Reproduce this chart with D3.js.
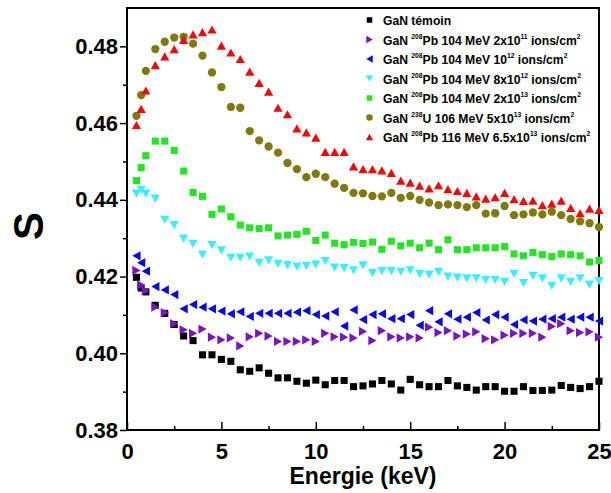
<!DOCTYPE html>
<html>
<head>
<meta charset="utf-8">
<script src="https://cdn.jsdelivr.net/npm/d3@7"></script>
<style>
  body { margin: 0; background: #fff; }
  text { font-family: "Liberation Sans", Arial, sans-serif; }
</style>
</head>
<body>
<div id="chart"></div>
<script>
// ---- data ----
const energy = [0.5, 0.75, 1, 1.5, 2, 2.5, 3, 3.5, 4, 4.5, 5, 5.5, 6, 6.5, 7, 7.5, 8, 8.5, 9, 9.5,
  10, 10.5, 11, 11.5, 12, 12.5, 13, 13.5, 14, 14.5, 15, 15.5, 16, 16.5, 17, 17.5, 18, 18.5, 19, 19.5,
  20, 20.5, 21, 21.5, 22, 22.5, 23, 23.5, 24, 24.5, 25];

const temoin = [0.4198, 0.4170, 0.4160, 0.4125, 0.4104, 0.4075, 0.4045, 0.4033, 0.3996, 0.3996,
  0.3984, 0.3979, 0.3957, 0.3953, 0.3962, 0.3948, 0.3936, 0.3936, 0.3927, 0.3922,
  0.3930, 0.3918, 0.3929, 0.3929, 0.3913, 0.3915, 0.3920, 0.3929, 0.3920, 0.3904,
  0.3932, 0.3918, 0.3913, 0.3913, 0.3929, 0.3915, 0.3911, 0.3904, 0.3913, 0.3913,
  0.3901, 0.3901, 0.3913, 0.3903, 0.3903, 0.3904, 0.3916, 0.3911, 0.3908, 0.3913, 0.3927];

const pb104_2e11 = [0.4216, 0.4178, 0.4163, 0.4120, 0.4106, 0.4077, 0.4061, 0.4052, 0.4063, 0.4042,
  0.4035, 0.4040, 0.4019, 0.4043, 0.4052, 0.4045, 0.4031, 0.4031, 0.4031, 0.4035,
  0.4031, 0.4052, 0.4043, 0.4042, 0.4040, 0.4057, 0.4033, 0.4059, 0.4043, 0.4040,
  0.4043, 0.4040, 0.4068, 0.4054, 0.4059, 0.4045, 0.4050, 0.4056, 0.4038, 0.4035,
  0.4047, 0.4052, 0.4052, 0.4052, 0.4042, 0.4070, 0.4077, 0.4059, 0.4054, 0.4056, 0.4042];

const pb104_1e12 = [0.4254, 0.4236, 0.4214, 0.4174, 0.4165, 0.4153, 0.4116, 0.4127, 0.4120, 0.4116,
  0.4110, 0.4103, 0.4108, 0.4096, 0.4104, 0.4104, 0.4104, 0.4104, 0.4107, 0.4111,
  0.4101, 0.4097, 0.4108, 0.4071, 0.4113, 0.4088, 0.4101, 0.4103, 0.4090, 0.4090,
  0.4101, 0.4073, 0.4111, 0.4082, 0.4103, 0.4089, 0.4094, 0.4106, 0.4087, 0.4101,
  0.4094, 0.4075, 0.4087, 0.4084, 0.4089, 0.4090, 0.4094, 0.4089, 0.4094, 0.4094, 0.4084];

const pb104_8e12 = [0.4416, 0.4426, 0.4416, 0.4403, 0.4348, 0.4334, 0.4299, 0.4285, 0.4257, 0.4282,
  0.4268, 0.4249, 0.4249, 0.4252, 0.4236, 0.4242, 0.4233, 0.4230, 0.4226, 0.4228,
  0.4231, 0.4240, 0.4223, 0.4222, 0.4216, 0.4229, 0.4209, 0.4214, 0.4214, 0.4212,
  0.4216, 0.4207, 0.4205, 0.4212, 0.4200, 0.4197, 0.4195, 0.4195, 0.4191, 0.4191,
  0.4186, 0.4207, 0.4183, 0.4202, 0.4195, 0.4176, 0.4195, 0.4186, 0.4195, 0.4179, 0.4188];

const pb104_2e13 = [0.4450, 0.4484, 0.4515, 0.4553, 0.4553, 0.4529, 0.4475, 0.4419, 0.4409, 0.4362,
  0.4376, 0.4356, 0.4334, 0.4327, 0.4325, 0.4327, 0.4306, 0.4308, 0.4310, 0.4318,
  0.4294, 0.4308, 0.4287, 0.4283, 0.4289, 0.4286, 0.4290, 0.4271, 0.4292, 0.4280,
  0.4287, 0.4275, 0.4287, 0.4270, 0.4296, 0.4270, 0.4270, 0.4275, 0.4275, 0.4275,
  0.4278, 0.4259, 0.4254, 0.4263, 0.4257, 0.4252, 0.4259, 0.4257, 0.4254, 0.4238, 0.4242];

const u106_5e13 = [0.4619, 0.4673, 0.4736, 0.4793, 0.4812, 0.4823, 0.4825, 0.4807, 0.4776, 0.4732,
  0.4694, 0.4642, 0.4640, 0.4579, 0.4555, 0.4539, 0.4523, 0.4496, 0.4480, 0.4459,
  0.4468, 0.4459, 0.4442, 0.4431, 0.4418, 0.4417, 0.4410, 0.4409, 0.4418, 0.4405,
  0.4410, 0.4400, 0.4393, 0.4386, 0.4388, 0.4386, 0.4381, 0.4386, 0.4364, 0.4365,
  0.4384, 0.4360, 0.4362, 0.4367, 0.4362, 0.4369, 0.4360, 0.4350, 0.4344, 0.4339, 0.4329];

const pb116_65e13 = [0.4595, 0.4637, 0.4685, 0.4751, 0.4774, 0.4793, 0.4817, 0.4831, 0.4837, 0.4844,
  0.4802, 0.4784, 0.4767, 0.4734, 0.4705, 0.4682, 0.4640, 0.4623, 0.4586, 0.4576,
  0.4562, 0.4525, 0.4525, 0.4525, 0.4487, 0.4480, 0.4480, 0.4477, 0.4470, 0.4450,
  0.4445, 0.4437, 0.4430, 0.4438, 0.4428, 0.4423, 0.4418, 0.4409, 0.4403, 0.4407,
  0.4418, 0.4402, 0.4397, 0.4398, 0.4386, 0.4390, 0.4398, 0.4379, 0.4365, 0.4377, 0.4374];

const seriesNames = [
  "GaN témoin",
  "GaN ^{208}Pb 104 MeV 2x10^{11} ions/cm^{2}",
  "GaN ^{208}Pb 104 MeV 10^{12} ions/cm^{2}",
  "GaN ^{208}Pb 104 MeV 8x10^{12} ions/cm^{2}",
  "GaN ^{208}Pb 104 MeV 2x10^{13} ions/cm^{2}",
  "GaN ^{238}U 106 MeV 5x10^{13} ions/cm^{2}",
  "GaN ^{208}Pb 116 MeV 6.5x10^{13} ions/cm^{2}"
];
const seriesValues = [temoin, pb104_2e11, pb104_1e12, pb104_8e12, pb104_2e13, u106_5e13, pb116_65e13];

const xTicks = [0, 5, 10, 15, 20, 25];
const yTicks = [0.38, 0.40, 0.42, 0.44, 0.46, 0.48];

// =========================
// SETUP
// =========================
const width = 611, height = 493;
const margin = { top: 8, right: 12, bottom: 63, left: 127 };
const iw = width - margin.left - margin.right;
const ih = height - margin.top - margin.bottom;

const svg = d3.select("#chart").append("svg")
  .attr("width", width)
  .attr("height", height);

const g = svg.append("g").attr("transform", `translate(${margin.left},${margin.top})`);

const x = d3.scaleLinear().domain([0, 25]).range([0, iw]);
const y = d3.scaleLinear().domain([0.38, 0.49]).range([ih, 0]);

// =========================
// MARKERS (triangles centred on their bounding box)
// =========================
function tri(dir) {
  return {
    draw(ctx, size) {
      const w = Math.sqrt(size) * 1.5, h = Math.sqrt(size) * 1.33;
      const pts = {
        up: [[0, -h / 2], [w / 2, h / 2], [-w / 2, h / 2]],
        down: [[0, h / 2], [w / 2, -h / 2], [-w / 2, -h / 2]],
        left: [[-h / 2, 0], [h / 2, -w / 2], [h / 2, w / 2]],
        right: [[h / 2, 0], [-h / 2, -w / 2], [-h / 2, w / 2]]
      }[dir];
      ctx.moveTo(pts[0][0], pts[0][1]);
      ctx.lineTo(pts[1][0], pts[1][1]);
      ctx.lineTo(pts[2][0], pts[2][1]);
      ctx.closePath();
    }
  };
}

const styles = [
  { type: d3.symbolSquare, size: 50, color: "#000000" },
  { type: tri("right"), size: 38, color: "#7a14bf" },
  { type: tri("left"), size: 38, color: "#0a0ae0" },
  { type: tri("down"), size: 38, color: "#38eeff" },
  { type: d3.symbolSquare, size: 50, color: "#22e622" },
  { type: d3.symbolCircle, size: 54, color: "#807a0c" },
  { type: tri("up"), size: 38, color: "#ee0a0a" }
];

// =========================
// AXES
// =========================
const fontAxis = "22px";

const yAxis = g.append("g")
  .call(d3.axisLeft(y).tickValues(yTicks).tickSize(7).tickPadding(2).tickFormat(d3.format(".2f")));
yAxis.select(".domain").remove();
yAxis.selectAll("line").attr("stroke", "#000").attr("stroke-width", 1.5);
yAxis.selectAll("text")
  .style("font-size", fontAxis).style("font-weight", "bold").attr("fill", "#000");

const yMinor = g.append("g")
  .call(d3.axisLeft(y).tickValues([0.39, 0.41, 0.43, 0.45, 0.47]).tickSize(4).tickFormat(""));
yMinor.select(".domain").remove();
yMinor.selectAll("line").attr("stroke", "#000").attr("stroke-width", 1.5);

const xAxis = g.append("g")
  .attr("transform", `translate(0,${ih})`)
  .call(d3.axisBottom(x).tickValues(xTicks).tickSize(-8).tickPadding(13));
xAxis.select(".domain").remove();
xAxis.selectAll("line").attr("stroke", "#000").attr("stroke-width", 1.5);
xAxis.selectAll("text")
  .style("font-size", fontAxis).style("font-weight", "bold").attr("fill", "#000");

const xMinor = g.append("g")
  .attr("transform", `translate(0,${ih})`)
  .call(d3.axisBottom(x).tickValues([2.5, 7.5, 12.5, 17.5, 22.5]).tickSize(-4).tickFormat(""));
xMinor.select(".domain").remove();
xMinor.selectAll("line").attr("stroke", "#000").attr("stroke-width", 1.5);

// frame
g.append("rect")
  .attr("width", iw).attr("height", ih)
  .attr("fill", "none").attr("stroke", "#000").attr("stroke-width", 2);

// titles
svg.append("text")
  .attr("x", margin.left + iw / 2).attr("y", 484)
  .attr("text-anchor", "middle")
  .style("font-size", "23px").style("font-weight", "bold")
  .text("Energie (keV)");

svg.append("text")
  .attr("transform", "translate(43,226) rotate(-90)")
  .attr("text-anchor", "middle")
  .style("font-size", "42px").style("font-weight", "bold")
  .text("S");

// =========================
// POINTS
// =========================
seriesValues.forEach((vals, i) => {
  const st = styles[i];
  const sym = d3.symbol().type(st.type).size(st.size);
  g.append("g").selectAll("path")
    .data(vals.map((v, j) => [energy[j], v]))
    .join("path")
    .attr("transform", d => `translate(${x(d[0])},${y(d[1])})`)
    .attr("d", sym)
    .attr("fill", st.color);
});

// =========================
// LEGEND
// =========================
const legend = svg.append("g");
seriesNames.forEach((name, i) => {
  const st = styles[i];
  const cy = 20 + i * 19.5;
  legend.append("path")
    .attr("transform", `translate(369.5,${cy})`)
    .attr("d", d3.symbol().type(st.type).size(st.size * 0.62))
    .attr("fill", st.color);

  // the source's legend font is a little condensed
  const t = legend.append("text")
    .attr("transform", `translate(383,${cy + 5}) scale(0.9,1)`)
    .style("font-size", "13.5px").style("font-weight", "bold");
  const parts = name.split(/(\^\{[^}]*\})/).filter(p => p.length);
  let raised = false;
  parts.forEach(p => {
    if (p.startsWith("^{")) {
      t.append("tspan").attr("dy", raised ? 0 : -6).style("font-size", "7.5px").text(p.slice(2, -1));
      raised = true;
    } else {
      t.append("tspan").attr("dy", raised ? 6 : 0).text(p);
      raised = false;
    }
  });
});
</script>
</body>
</html>
